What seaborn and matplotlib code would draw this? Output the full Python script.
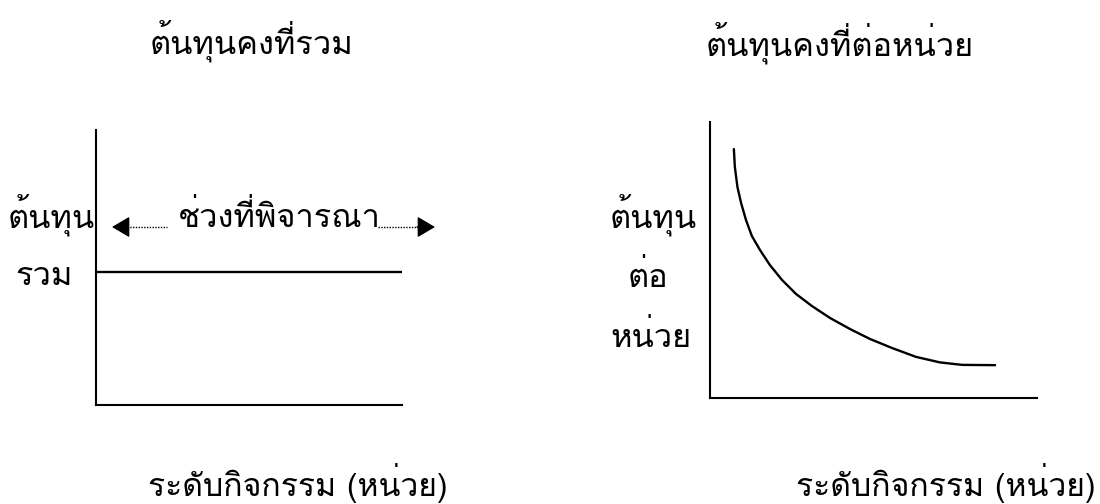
import matplotlib
matplotlib.use("Agg")
import matplotlib.pyplot as plt
import seaborn as sns
import pandas as pd
from matplotlib import font_manager
from matplotlib.patches import FancyArrowPatch
from matplotlib.lines import Line2D
from fontTools.ttLib import TTFont

# ---------------- data ----------------
left_x = [0.0, 10.0]
left_y = [4.84, 4.84]

right_x = [0.73, 0.76, 0.84, 0.95, 1.10, 1.28, 1.53, 1.83, 2.20, 2.63,
           3.12, 3.67, 4.28, 4.89, 5.57, 6.30, 7.03, 7.71, 8.72]
right_y = [9.02, 8.37, 7.64, 7.07, 6.45, 5.87, 5.36, 4.82, 4.28, 3.77,
           3.33, 2.90, 2.50, 2.14, 1.81, 1.49, 1.29, 1.20, 1.19]

title_left = "ต้นทุนคงที่รวม"
title_right = "ต้นทุนคงที่ต่อหน่วย"
xlabel = "ระดับกิจกรรม (หน่วย)"
ylabel_left = ["ต้นทุน", "รวม"]
ylabel_right = ["ต้นทุน", "ต่อ", "หน่วย"]
range_label = "ช่วงที่พิจารณา"

sns.set_theme(style="white")

# find an installed font with Thai glyphs
thai_font = None
for f in font_manager.fontManager.ttflist:
    try:
        tt = TTFont(f.fname, fontNumber=0, lazy=True)
        cmap = tt.getBestCmap()
        if cmap and 0x0E15 in cmap and 0x0E49 in cmap:
            thai_font = f.name
            break
    except Exception:
        continue
fams = ([thai_font] if thai_font else []) + ["DejaVu Sans"]
plt.rcParams["font.family"] = fams

fig = plt.figure(figsize=(11, 5.04), dpi=100)
W, H = 1100, 504


def px(x, y):
    return x / W, 1 - y / H


axL = fig.add_axes([96 / W, 1 - 405 / H, 306 / W, 275 / H])
axR = fig.add_axes([710 / W, 1 - 398 / H, 327 / W, 276 / H])

dfL = pd.DataFrame({"x": left_x, "y": left_y})
dfR = pd.DataFrame({"x": right_x, "y": right_y})
sns.lineplot(data=dfL, x="x", y="y", ax=axL, color="black", lw=1.7, sort=False)
sns.lineplot(data=dfR, x="x", y="y", ax=axR, color="black", lw=1.7, sort=False)

for ax in (axL, axR):
    ax.set_xlim(0, 10)
    ax.set_ylim(0, 10)
    ax.set_xticks([])
    ax.set_yticks([])
    ax.set_xlabel("")
    ax.set_ylabel("")
    for s in ("top", "right"):
        ax.spines[s].set_visible(False)
    for s in ("left", "bottom"):
        ax.spines[s].set_color("black")
        ax.spines[s].set_linewidth(1.5)
    ax.set_facecolor("none")

fs = 23.5
kw = dict(ha="center", va="baseline", fontsize=fs, color="black")
fig.text(*px(251, 54), title_left, **kw)
fig.text(*px(840, 56), title_right, **kw)
kwx = dict(kw, fontsize=23)
fig.text(*px(298, 496), xlabel, **kwx)
fig.text(*px(946, 496), xlabel, **kwx)

fig.text(*px(51, 227), ylabel_left[0], **kw)
fig.text(*px(44, 285), ylabel_left[1], **kw)
for lbl, xx, yy in zip(ylabel_right, [653, 648, 651], [227, 287, 347]):
    fig.text(*px(xx, yy), lbl, **kw)

# range annotation
fig.text(*px(279, 227), range_label, **kw)
ya = 227
for x0, x1 in ((127, 167), (378, 418)):
    fig.add_artist(Line2D([x0 / W, x1 / W], [1 - ya / H, 1 - ya / H],
                          transform=fig.transFigure, color="black",
                          lw=1.0, linestyle=(0, (1, 1))))
for back, tip in ((128, 112), (417, 435)):
    fig.add_artist(FancyArrowPatch(px(back, ya), px(tip, ya),
                                   transform=fig.transFigure,
                                   arrowstyle="-|>,head_length=11,head_width=6.5",
                                   mutation_scale=1, color="black", lw=1.0,
                                   shrinkA=0, shrinkB=0))

fig.savefig("out.png", dpi=100, facecolor="white")
